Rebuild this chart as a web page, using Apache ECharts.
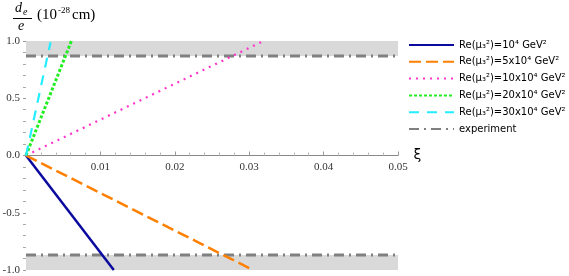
<!DOCTYPE html>
<html><head><meta charset="utf-8">
<script src="https://cdn.jsdelivr.net/npm/echarts@6/dist/echarts.min.js"></script>
<style>html,body{margin:0;padding:0;background:#fff}#c{width:569px;height:276px}</style>
</head><body><div id="c"></div>
<script>
// ---- data ----
const seriesNames = ['Re(μ₃²)=10⁴ GeV²','Re(μ₃²)=5x10⁴ GeV²','Re(μ₃²)=10x10⁴ GeV²','Re(μ₃²)=20x10⁴ GeV²','Re(μ₃²)=30x10⁴ GeV²','experiment'];
const line1 = [[0,0],[0.0118,-1.0]];
const line2 = [[0,0],[0.0305,-1.0]];
const line3 = [[0,0],[0.0316,0.99]];
const line4 = [[0,0],[0.0061,1.0]];
const line5 = [[0,0],[0.0033,0.99]];
const expUpper = [[0,0.87],[0.05,0.87]];
const expLower = [[0,-0.87],[0.05,-0.87]];
const bandUpper = [0.87, 1.0];
const bandLower = [-1.0, -0.87];
const xTicks = [0.01,0.02,0.03,0.04,0.05];

const chart = echarts.init(document.getElementById('c'));
const serif = 'Liberation Serif';
function mk(name, data, color, width, type, z) {
  return {name, type:'line', data, symbol:'none', z: z||3, animation:false,
    lineStyle:{color, width, type}, itemStyle:{color}};
}
const gridTop = 41, gridBottom = 6, H = 276;
const gridH = H - gridTop - gridBottom;
chart.setOption({
  animation:false,
  grid:{left:26, right:171, top:gridTop, bottom:gridBottom, containLabel:false, outerBoundsMode:'none'},
  legend:{
    orient:'vertical', left:403, top:35, itemWidth:45, itemHeight:10, itemGap:6.8,
    itemStyle:{opacity:0},
    textStyle:{fontFamily:'DejaVu Sans', fontSize:10, color:'#000', padding:[0,0,0,0], lineHeight:10},
    data: seriesNames
  },
  xAxis:{type:'value', min:0, max:0.05, interval:0.01, position:'bottom', offset:-gridH/2,
    axisLine:{onZero:false, lineStyle:{color:'#888', width:1}},
    axisTick:{show:true, inside:true, length:4, lineStyle:{color:'#999'}},
    minorTick:{show:true, splitNumber:5, length:3, lineStyle:{color:'#bbb'}},
    splitLine:{show:false},
    axisLabel:{fontFamily:serif, fontSize:11, color:'#333', margin:6,
      formatter: v => (xTicks.some(t=>Math.abs(t-v)<1e-9) ? v.toFixed(2) : '')},
    name:'ξ', nameLocation:'end', nameGap:6,
    nameTextStyle:{fontFamily:'DejaVu Sans', fontSize:14, color:'#000', verticalAlign:'middle', padding:[0,0,2,0]}
  },
  yAxis:{type:'value', min:-1, max:1, interval:0.5,
    axisLine:{show:false},
    axisTick:{show:true, length:3, lineStyle:{color:'#999'}},
    minorTick:{show:true, splitNumber:5, length:3, lineStyle:{color:'#aaa'}},
    splitLine:{show:false},
    axisLabel:{fontFamily:serif, fontSize:11, color:'#333', margin:6,
      formatter: v => v.toFixed(1)}
  },
  graphic:[
    {type:'text', left:15, top:1, style:{text:'d', font:'italic 14px "Liberation Serif"', fill:'#000'}},
    {type:'text', left:23, top:7, style:{text:'e', font:'italic 10px "Liberation Serif"', fill:'#000'}},
    {type:'line', shape:{x1:13, y1:18.5, x2:32, y2:18.5}, style:{stroke:'#000', lineWidth:1}},
    {type:'text', left:18, top:19, style:{text:'e', font:'italic 14px "Liberation Serif"', fill:'#000'}},
    {type:'text', left:37, top:8, style:{text:'(10', font:'15px "Liberation Serif"', fill:'#000'}},
    {type:'text', left:58, top:6, style:{text:'-28', font:'9px "Liberation Serif"', fill:'#000'}},
    {type:'text', left:72, top:8, style:{text:'cm)', font:'15px "Liberation Serif"', fill:'#000'}}
  ],
  series:[
    mk(seriesNames[0], line1, '#0a0a9e', 2.5, 'solid', 5),
    mk(seriesNames[1], line2, '#ff8000', 2.5, [12,5], 5),
    mk(seriesNames[2], line3, '#ff33cc', 2.2, [2,5], 5),
    mk(seriesNames[3], line4, '#22ee22', 3, [3,2], 5),
    mk(seriesNames[4], line5, '#22eeff', 2.2, [10,8], 5),
    Object.assign(mk(seriesNames[5], expUpper, '#808080', 3, [10,5,2,5], 4), {
      markArea:{silent:true, itemStyle:{color:'#d9d9d9'}, data:[[{yAxis:bandUpper[0], xAxis:0},{yAxis:bandUpper[1], xAxis:0.05}]]}
    }),
    Object.assign(mk(seriesNames[5], expLower, '#808080', 3, [10,5,2,5], 4), {
      markArea:{silent:true, itemStyle:{color:'#d9d9d9'}, data:[[{yAxis:bandLower[0], xAxis:0},{yAxis:bandLower[1], xAxis:0.05}]]}
    })
  ]
});
</script></body></html>
